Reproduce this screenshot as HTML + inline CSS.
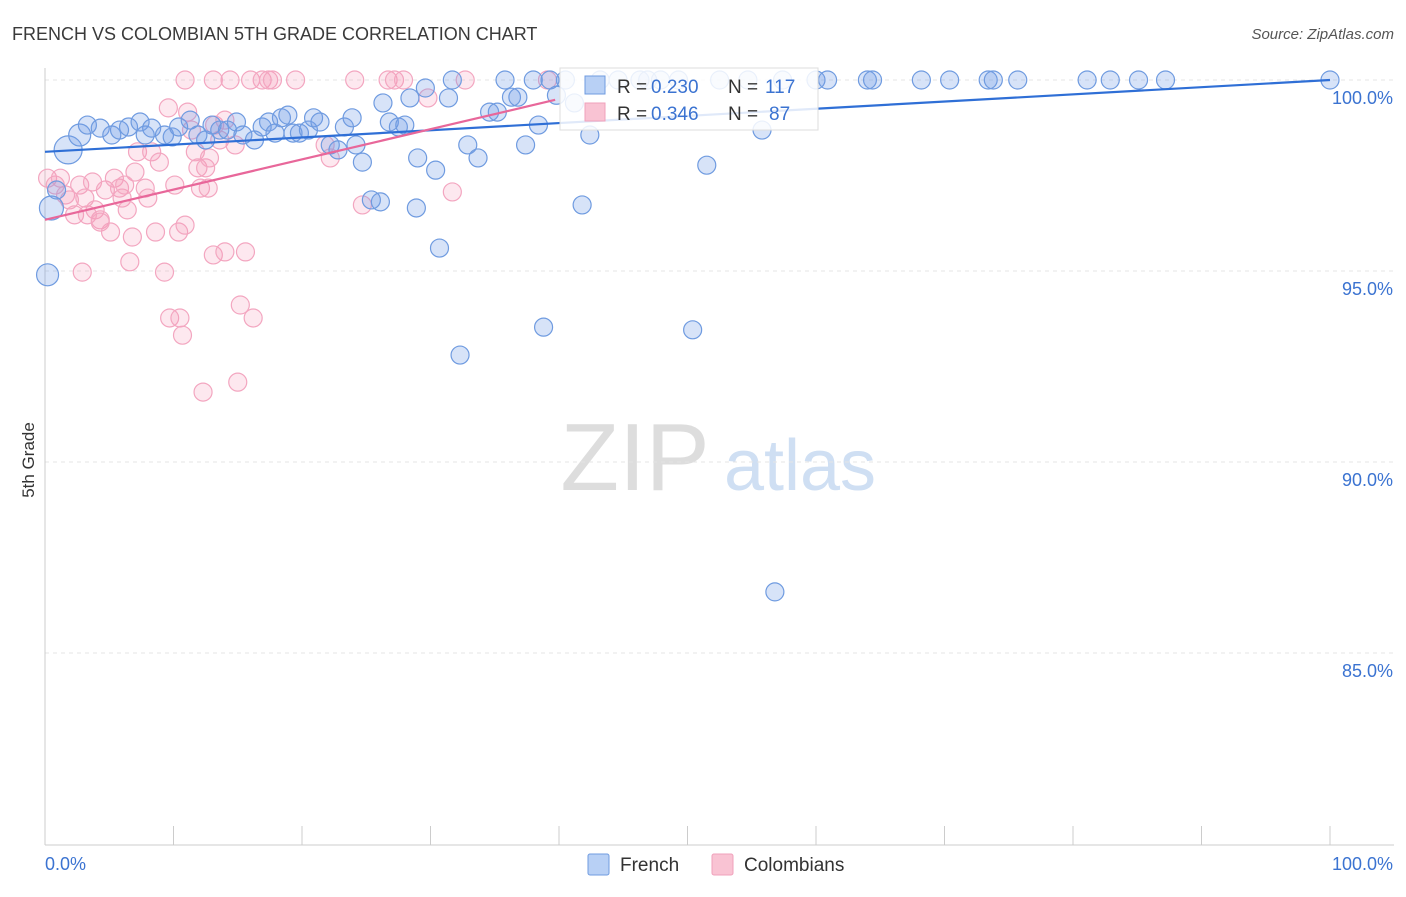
<!DOCTYPE html>
<html><head><meta charset="utf-8"><style>
body{margin:0;background:#fff;font-family:"Liberation Sans",sans-serif}
svg text{font-family:"Liberation Sans",sans-serif}
</style></head><body>
<svg id="c" width="1406" height="892" xmlns="http://www.w3.org/2000/svg">
<text x="12" y="40" font-size="18" fill="#3a3a3a">FRENCH VS COLOMBIAN 5TH GRADE CORRELATION CHART</text>
<text x="1394" y="39" font-size="15" fill="#555" text-anchor="end" font-style="italic">Source: ZipAtlas.com</text>
<text x="34" y="460" font-size="17" fill="#333" transform="rotate(-90 34 460)" text-anchor="middle">5th Grade</text>
<g><text x="635" y="490" font-size="96" fill="#ddd" font-family="Liberation Serif" text-anchor="middle">ZIP</text><text x="800" y="490" font-size="72" fill="#cfdff3" text-anchor="middle">atlas</text></g>
<g id="grid"></g><g id="axes"></g><g id="pts"></g><g id="trends"></g>
<g>
<rect x="560" y="68" width="258" height="62" fill="#fff" fill-opacity="0.85" stroke="#ddd"/>
<rect x="585" y="76" width="20" height="18" fill="#b8d0f5" stroke="#6f9be0"/>
<text x="617" y="93" font-size="19" fill="#333">R =</text>
<text x="651" y="93" font-size="19" fill="#3b73d1">0.230</text>
<text x="728" y="93" font-size="19" fill="#333">N =</text>
<text x="765" y="93" font-size="19" fill="#3b73d1">117</text>
<rect x="585" y="103" width="20" height="18" fill="#f9c3d3" stroke="#f0a0bb"/>
<text x="617" y="120" font-size="19" fill="#333">R =</text>
<text x="651" y="120" font-size="19" fill="#3b73d1">0.346</text>
<text x="728" y="120" font-size="19" fill="#333">N =</text>
<text x="769" y="120" font-size="19" fill="#3b73d1">87</text>
</g>
<g>
<rect x="588" y="854" width="21" height="21" fill="#b8d0f5" stroke="#6f9be0" rx="2"/>
<text x="620" y="871" font-size="19" fill="#333">French</text>
<rect x="712" y="854" width="21" height="21" fill="#f9c3d3" stroke="#f0a0bb" rx="2"/>
<text x="744" y="871" font-size="19" fill="#333">Colombians</text>
</g>
</svg>
<script>
const yTicks=[100,95,90,85];
const yTickLabels=["100.0%","95.0%","90.0%","85.0%"];
const xTickLabels=["0.0%","100.0%"];
const frenchX=[1.8,2.7,3.3,4.3,5.2,5.8,6.5,7.4,7.8,8.3,9.3,9.9,10.4,11.3,11.9,12.5,13.0,13.6,14.2,14.9,15.4,16.3,16.9,17.4,17.9,18.4,18.9,19.3,19.8,20.5,20.9,21.4,22.2,22.8,23.3,23.9,24.2,24.7,26.3,26.8,27.5,28.0,28.4,29.6,29.0,30.4,30.7,31.4,31.7,32.3,32.9,33.7,34.6,35.2,35.8,36.3,36.8,37.4,38.0,38.4,38.8,39.3,39.8,40.5,41.2,41.8,42.4,43.2,44.6,46.3,46.9,47.9,49.3,50.4,51.5,52.5,54.7,55.8,56.8,57.4,60.0,60.9,64.0,64.4,68.2,70.4,73.4,73.8,75.7,81.1,82.9,85.1,87.2,100,0.2,0.5,25.4,26.1,28.9,0.9];
const frenchY=[98.17,98.56,98.82,98.74,98.56,98.69,98.77,98.90,98.56,98.74,98.56,98.51,98.77,98.95,98.56,98.43,98.82,98.69,98.69,98.90,98.56,98.43,98.77,98.90,98.61,99.01,99.08,98.61,98.61,98.69,99.01,98.90,98.30,98.17,98.77,99.01,98.30,97.85,99.40,98.90,98.77,98.82,99.53,99.79,97.96,97.64,95.60,99.53,100,92.80,98.30,97.96,99.16,99.16,100,99.55,99.55,98.30,100,98.82,93.53,100,99.60,100,99.40,96.73,98.56,100,100,100,100,100,100,93.46,97.77,100,100,98.69,86.60,100,100,100,100,100,100,100,100,100,100,100,100,100,100,100,94.90,96.65,96.86,96.81,96.65,97.12];
const frenchR=[14,11,9,9,9,9,9,9,9,9,9,9,9,9,9,9,9,9,9,9,9,9,9,9,9,9,9,9,9,9,9,9,9,9,9,9,9,9,9,9,9,9,9,9,9,9,9,9,9,9,9,9,9,9,9,9,9,9,9,9,9,9,9,9,9,9,9,9,9,9,9,9,9,9,9,9,9,9,9,9,9,9,9,9,9,9,9,9,9,9,9,9,9,9,11,12,9,9,9,9];
const colX=[0.2,0.8,1.2,1.6,1.9,2.3,2.7,3.1,3.7,3.9,4.3,4.7,5.1,5.4,5.8,6.0,6.4,6.6,6.8,7.0,7.2,7.8,8.0,8.3,8.6,8.9,9.3,9.6,9.7,10.1,10.4,10.5,10.7,10.9,11.1,11.4,11.7,11.9,12.1,12.3,12.5,12.7,12.8,13.1,13.2,13.6,14.0,14.4,14.8,15.0,15.2,15.6,16.0,16.2,16.9,17.4,17.7,19.5,21.8,22.2,24.1,24.7,26.7,27.2,27.9,29.8,31.7,32.7,39.1,2.9,3.3,4.3,6.2,10.9,13.1,14.0];
const colY=[97.43,97.25,97.43,96.99,96.86,96.47,97.25,96.91,97.33,96.60,96.34,97.12,96.02,97.43,97.17,96.91,96.60,95.24,95.89,97.59,98.12,97.17,96.91,98.12,96.02,97.85,94.97,99.27,93.77,97.25,96.02,93.77,93.32,100,99.16,98.69,98.12,97.70,97.17,91.83,97.70,97.17,97.96,100,98.82,98.43,98.95,100,98.30,92.09,94.11,95.50,100,93.77,100,100,100,100,98.30,97.96,100,96.73,100,100,100,99.53,97.07,100,100,94.97,96.47,96.28,97.25,96.20,95.42,95.50];
const frenchTrend=[98.12,100];
const colTrend=[96.34,99.48];
const colTrendX=[0,39.7];
const X0=45,X1=1330,Y100=80,PPU=38.2;
const xs=v=>X0+v*(X1-X0)/100;
const ys=v=>Y100+(100-v)*PPU;
const NS="http://www.w3.org/2000/svg";
function mk(t,a,p){const e=document.createElementNS(NS,t);for(const k in a)e.setAttribute(k,a[k]);p.appendChild(e);return e;}
const grid=document.getElementById('grid'),axes=document.getElementById('axes'),pts=document.getElementById('pts'),tr=document.getElementById('trends');
yTicks.forEach((t,i)=>{
 const l=mk('line',{x1:X0,x2:1394,y1:ys(t),y2:ys(t),stroke:'#e4e4e4','stroke-dasharray':'4,4'},grid);
 
 
 const tx=mk('text',{x:1393,y:ys(t)+24,'font-size':18,fill:'#3b73d1','text-anchor':'end'},axes);
 tx.textContent=yTickLabels[i];
 
 
});
const ax=mk('line',{x1:X0,x2:1394,y1:845,y2:845,stroke:'#ccc'},axes);


const ay=mk('line',{x1:X0,x2:X0,y1:68,y2:845,stroke:'#ccc'},axes);


for(let i=0;i<=10;i++){const t=mk('line',{x1:xs(i*10),x2:xs(i*10),y1:826,y2:845,stroke:'#ccc'},axes);
 
 }
[[0,'start',45],[100,'end',1393]].forEach((d,i)=>{const t=mk('text',{x:d[2],y:870,'font-size':18,fill:'#3b73d1','text-anchor':d[1]},axes);t.textContent=xTickLabels[i];
 
 });
colX.forEach((x,i)=>{const c=mk('circle',{cx:xs(x),cy:ys(colY[i]),r:9,fill:'rgba(245,150,180,0.22)',stroke:'#f3a6c0','stroke-width':1.2},pts);
 
 });
frenchX.forEach((x,i)=>{const c=mk('circle',{cx:xs(x),cy:ys(frenchY[i]),r:frenchR[i],fill:'rgba(110,155,230,0.28)',stroke:'#6f9be0','stroke-width':1.2},pts);
 
 });
const fl=mk('line',{x1:xs(0),y1:ys(frenchTrend[0]),x2:xs(100),y2:ys(frenchTrend[1]),stroke:'#2f6fd6','stroke-width':2.2},tr);


const cl=mk('line',{x1:xs(colTrendX[0]),y1:ys(colTrend[0]),x2:xs(colTrendX[1]),y2:ys(colTrend[1]),stroke:'#e8679a','stroke-width':2.2},tr);


</script>
</body></html>
